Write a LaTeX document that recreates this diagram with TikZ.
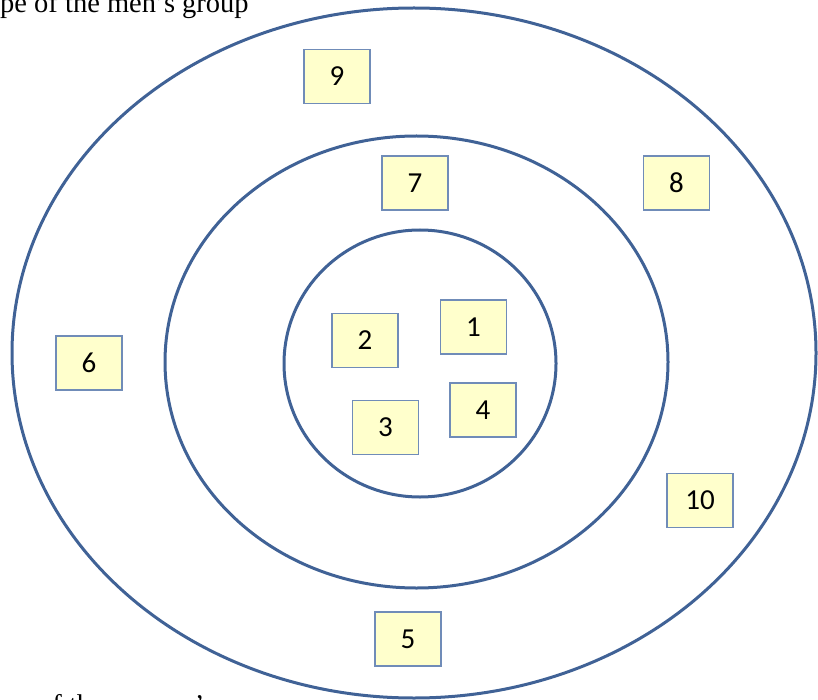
\documentclass[tikz,border=0pt]{standalone}
\usepackage{fontspec}
\setmainfont{Liberation Serif}
\newfontfamily\numfont{Carlito}
\definecolor{ringblue}{RGB}{64,98,150}
\definecolor{boxedge}{RGB}{112,140,184}
\definecolor{boxfill}{RGB}{255,255,204}
\begin{document}
\begin{tikzpicture}[x=1pt,y=-1pt,
  ring/.style={draw=ringblue,line width=3pt},
  numbox/.style={draw=boxedge,fill=boxfill,line width=1.3pt,minimum width=66pt,minimum height=54pt,inner sep=0pt,font=\numfont\fontsize{29}{29}\selectfont},
  caption/.style={inner sep=0pt,font=\fontsize{28.5}{30}\selectfont}]
\useasboundingbox (0,0) rectangle (818,700);
\clip (0,0) rectangle (818,700);
\draw[ring] (414pt,-353pt) ellipse [x radius=402pt, y radius=345pt];
\draw[ring] (416.5pt,-362pt) ellipse [x radius=251.5pt, y radius=226pt];
\draw[ring] (420pt,-363.5pt) ellipse [x radius=136pt, y radius=133.5pt];
\node[numbox] (n9) at (337,76.5) {9};
\node[numbox] (n7) at (415,183) {7};
\node[numbox] (n8) at (676.5,183) {8};
\node[numbox] (n6) at (89,363) {6};
\node[numbox] (n2) at (365,340.5) {2};
\node[numbox] (n1) at (473.5,327) {1};
\node[numbox] (n3) at (385.5,427.5) {3};
\node[numbox] (n4) at (483,410) {4};
\node[numbox] (n10) at (700,500.5) {10};
\node[numbox] (n5) at (408,639) {5};
\node[caption,anchor=base west] (top) at (0,12.5) {pe of the men's group};
\node[caption,anchor=base west] (bottom) at (38,714) {of the women's};
\end{tikzpicture}
\end{document}
